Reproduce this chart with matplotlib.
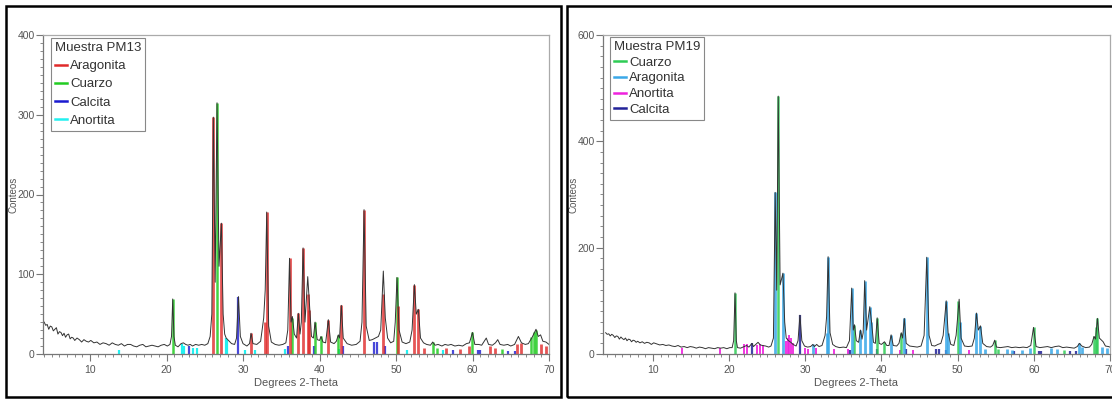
import matplotlib.pyplot as plt
import matplotlib.patches as pt
from matplotlib.lines import Line2D
from matplotlib.ticker import MultipleLocator

plt.rcParams["font.family"] = "Liberation Sans"

# ---- PM13 measured trace (2-theta, counts) ----
pm13_tt = [4.0, 4.2, 4.4, 4.6, 4.8, 5.0, 5.2, 5.4, 5.6, 5.8, 6.0, 6.2, 6.4, 6.6, 6.8, 7.0, 7.2, 7.4,
           7.6, 7.8, 8.0, 8.3, 8.6, 8.9, 9.2, 9.5, 9.8, 10.1, 10.5, 10.9, 11.3, 11.7, 12.1, 12.5,
           12.9, 13.3, 13.7, 14.1, 14.5, 14.9, 15.3, 15.7, 16.1, 16.5, 16.9, 17.3, 17.7, 18.1,
           18.5, 18.9, 19.3, 19.7, 20.1, 20.45, 20.65, 20.81, 20.97, 21.15, 21.5, 21.9, 22.2,
           22.5, 22.8, 23.1, 23.4, 23.8, 24.2, 24.6, 25.0, 25.4, 25.7, 25.92, 26.12, 26.36,
           26.6, 26.86, 27.17, 27.4, 27.6, 27.8, 28.1, 28.5, 28.9, 29.15, 29.4, 29.65, 30.0,
           30.5, 30.85, 31.05, 31.3, 31.8, 32.3, 32.7, 32.9, 33.1, 33.35, 33.7, 34.2, 34.7,
           35.2, 35.6, 35.85, 36.08, 36.28, 36.45, 36.7, 37.0, 37.23, 37.45, 37.62, 37.85,
           38.1, 38.46, 38.7, 38.95, 39.2, 39.42, 39.7, 40.0, 40.2, 40.45, 40.8, 41.15, 41.45,
           41.9, 42.2, 42.46, 42.62, 42.85, 43.1, 43.6, 44.2, 44.8, 45.3, 45.55, 45.82, 46.1,
           46.5, 46.9, 47.3, 47.7, 48.0, 48.34, 48.6, 48.9, 49.3, 49.7, 49.9, 50.13, 50.4,
           50.8, 51.3, 51.8, 52.1, 52.4, 52.65, 52.92, 53.2, 53.6, 54.0, 54.5, 54.8, 55.1,
           55.5, 56.0, 56.4, 56.8, 57.2, 57.7, 58.2, 58.7, 59.2, 59.6, 60.0, 60.3, 60.8, 61.2,
           61.8, 62.1, 62.6, 63.0, 63.3, 63.6, 64.1, 64.6, 65.0, 65.5, 66.0, 66.4, 66.9, 67.3,
           67.8, 68.0, 68.3, 68.6, 68.9, 69.2, 69.6, 70.0]
pm13_cts = [40, 36, 37, 31, 35, 34, 29, 31, 33, 25, 28, 27, 23, 26, 21, 24, 25, 19,
            21, 20, 17, 20, 18, 15, 18, 16, 15, 17, 14, 15, 12, 14, 13, 11,
            14, 12, 11, 13, 10, 12, 12, 10, 9, 11, 12, 9, 10, 11,
            10, 9, 11, 12, 10, 12, 22, 69, 22, 11, 9, 13, 14,
            12, 11, 12, 10, 12, 11, 12, 11, 13, 22, 50, 297, 90,
            315, 110, 164, 50, 25, 20, 17, 13, 12, 20, 72, 22, 13,
            10, 13, 26, 13, 12, 16, 45, 80, 178, 35, 15, 12, 11,
            12, 14, 30, 120, 40, 47, 25, 20, 51, 25, 40, 133,
            40, 97, 60, 22, 20, 40, 18, 17, 22, 15, 14, 43, 15,
            13, 16, 24, 20, 61, 20, 13, 11, 12, 16, 40, 181, 35,
            17, 18, 20, 22, 30, 104, 45, 20, 14, 16, 40, 96, 30,
            15, 13, 15, 30, 87, 50, 56, 20, 14, 12, 11, 15, 11,
            12, 10, 12, 11, 12, 10, 11, 10, 13, 14, 27, 12, 12, 11,
            20, 12, 11, 14, 18, 12, 11, 12, 10, 12, 22, 14, 12, 13,
            21, 25, 31, 22, 24, 16, 15, 12]

# ---- PM13 reference sticks (position, height) ----
pm13_arag_pos = [26.12, 27.17, 31.05, 32.9, 33.1, 36.08, 37.23, 37.85, 38.46, 38.65, 41.15, 42.85,
                 45.82, 48.34, 50.2, 52.4, 52.92, 53.6, 56.5, 58.4, 59.5, 62.3, 63.0, 65.8, 66.3,
                 68.9, 69.6]
pm13_arag_h = [297, 164, 26, 40, 178, 120, 51, 133, 75, 55, 43, 61,
               181, 75, 60, 87, 56, 8, 8, 6, 10, 10, 8, 12, 14,
               12, 10]
pm13_cuar_pos = [20.81, 26.6, 36.45, 39.42, 40.2, 42.46, 50.1, 54.8, 55.3, 59.95, 63.9, 67.7,
                 68.1, 68.3]
pm13_cuar_h = [69, 315, 45, 40, 22, 24, 96, 15, 8, 27, 6, 21, 28, 30]
pm13_calc_pos = [23.0, 29.4, 35.9, 39.3, 43.1, 47.1, 47.5, 48.5, 57.4, 60.7, 61.0, 64.7, 65.6]
pm13_calc_h = [10, 72, 10, 10, 10, 15, 15, 10, 5, 5, 5, 4, 4]
pm13_anor_pos = [13.8, 22.0, 22.3, 23.5, 24.0, 27.75, 27.95, 30.2, 31.5, 35.5, 42.6, 51.5, 56.2]
pm13_anor_h = [5, 12, 10, 8, 8, 20, 18, 5, 5, 6, 6, 5, 5]

# ---- PM19 measured trace (2-theta, counts) ----
pm19_tt = [3.8, 4.0, 4.2, 4.4, 4.6, 4.8, 5.0, 5.2, 5.4, 5.6, 5.8, 6.0, 6.2, 6.4, 6.6, 6.8, 7.0,
           7.2, 7.4, 7.6, 7.8, 8.0, 8.3, 8.6, 8.9, 9.2, 9.5, 9.8, 10.1, 10.5, 10.9, 11.3, 11.7,
           12.1, 12.5, 12.9, 13.3, 13.7, 14.1, 14.5, 14.9, 15.3, 15.7, 16.1, 16.5, 16.9, 17.3,
           17.7, 18.1, 18.5, 18.9, 19.3, 19.7, 20.1, 20.4, 20.6, 20.78, 20.95, 21.1, 21.5,
           22.0, 22.3, 22.6, 23.0, 23.2, 23.5, 23.8, 24.1, 24.4, 24.8, 25.2, 25.5, 25.82,
           26.05, 26.25, 26.45, 26.7, 27.07, 27.3, 27.5, 27.8, 28.1, 28.4, 28.8, 29.05, 29.3,
           29.55, 29.9, 30.3, 30.7, 31.0, 31.2, 31.5, 31.8, 32.2, 32.6, 32.8, 33.0, 33.25,
           33.6, 34.0, 34.5, 35.0, 35.4, 35.8, 36.1, 36.3, 36.46, 36.7, 37.0, 37.25, 37.45,
           37.6, 37.8, 38.05, 38.47, 38.7, 38.95, 39.2, 39.44, 39.7, 40.0, 40.4, 40.7, 41.0,
           41.27, 41.55, 42.0, 42.3, 42.6, 42.78, 43.0, 43.25, 43.7, 44.2, 44.7, 45.2, 45.6,
           45.95, 46.25, 46.6, 47.0, 47.4, 47.8, 48.1, 48.5, 48.75, 49.1, 49.5, 49.8, 50.2,
           50.45, 50.9, 51.4, 51.9, 52.2, 52.47, 52.72, 53.0, 53.3, 53.8, 54.3, 54.6, 54.87,
           55.1, 55.6, 56.1, 56.6, 57.1, 57.6, 58.1, 58.6, 59.1, 59.6, 59.96, 60.3, 60.8,
           61.3, 61.8, 62.3, 62.8, 63.3, 63.8, 64.3, 64.8, 65.3, 65.7, 65.99, 66.3, 66.8,
           67.3, 67.6, 67.9, 68.1, 68.35, 68.6, 69.1, 69.4, 69.8, 70.0]
pm19_cts = [40, 37, 38, 34, 37, 35, 31, 34, 33, 28, 32, 29, 27, 30, 25, 28, 27,
            23, 26, 25, 22, 24, 21, 23, 20, 22, 21, 18, 21, 19, 17, 18, 16,
            17, 15, 14, 16, 13, 14, 12, 14, 13, 11, 13, 12, 10, 12,
            11, 10, 12, 11, 12, 10, 12, 12, 25, 115, 25, 12, 11,
            14, 16, 13, 20, 14, 18, 22, 17, 16, 15, 13, 15, 30,
            304, 120, 485, 130, 152, 60, 30, 25, 22, 18, 15, 25, 73,
            25, 15, 13, 14, 18, 14, 18, 14, 16, 35, 70, 183, 40,
            18, 14, 12, 13, 12, 25, 124, 45, 55, 25, 22, 45, 28,
            40, 138, 45, 89, 60, 22, 20, 68, 20, 18, 23, 16, 16,
            36, 16, 15, 20, 40, 30, 67, 20, 15, 14, 13, 15, 35,
            182, 35, 16, 15, 18, 20, 35, 100, 40, 18, 16, 35, 103,
            30, 15, 14, 15, 30, 77, 45, 53, 20, 14, 13, 16, 26,
            13, 12, 13, 14, 12, 13, 12, 13, 12, 16, 50, 14, 12,
            13, 14, 12, 14, 15, 12, 13, 12, 11, 14, 20, 15, 12,
            13, 18, 33, 28, 67, 30, 23, 15, 14, 13]

# ---- PM19 reference sticks (position, height) ----
pm19_cuar_pos = [20.78, 26.45, 36.46, 39.44, 40.4, 42.6, 50.1, 54.87, 55.3, 59.96, 63.9, 67.9,
                 68.1, 68.35]
pm19_cuar_h = [115, 485, 55, 68, 23, 40, 100, 26, 10, 50, 8, 33, 50, 67]
pm19_arag_pos = [26.05, 27.07, 31.0, 32.8, 33.0, 36.1, 37.25, 37.8, 38.47, 38.65, 41.27, 43.0,
                 45.95, 48.5, 48.7, 50.25, 52.47, 53.0, 53.6, 56.5, 57.2, 58.4, 59.5, 62.3,
                 63.0, 65.99, 66.3, 68.9, 69.6]
pm19_arag_h = [304, 152, 18, 40, 183, 124, 45, 138, 89, 60, 36, 67,
               182, 100, 40, 60, 77, 53, 10, 10, 8, 8, 12, 12,
               10, 20, 14, 14, 12]
pm19_anor_pos = [13.8, 18.8, 22.0, 22.3, 23.6, 24.0, 24.5, 27.5, 27.7, 27.9, 28.1, 28.4,
                 29.9, 30.3, 31.4, 33.8, 35.6, 42.5, 44.2, 51.5]
pm19_anor_h = [12, 12, 18, 18, 16, 18, 16, 25, 30, 35, 30, 20,
               12, 10, 12, 10, 10, 8, 8, 8]
pm19_calc_pos = [23.0, 29.3, 35.9, 39.4, 43.2, 47.1, 47.5, 48.5, 57.4, 60.7, 61.0, 64.7, 65.6]
pm19_calc_h = [20, 73, 8, 10, 10, 10, 10, 8, 6, 6, 6, 5, 5]

# colours
RED = '#e02a2a'
GREEN13 = '#22cc22'
BLUE13 = '#1a1ad0'
CYAN13 = '#22f0f0'
GREEN19 = '#2ecc55'
SKY19 = '#3aa8e8'
MAG19 = '#ee22dd'
NAVY19 = '#222299'

fig = plt.figure(figsize=(11.12, 3.99), dpi=100)

# black outer frames around each panel
W, H = 1112.0, 399.0
fig.patches.append(pt.Rectangle((6 / W, 2 / H), 555 / W, 391 / H, transform=fig.transFigure,
                                fill=False, edgecolor='black', linewidth=1.8))
fig.patches.append(pt.Rectangle((567 / W, 2 / H), 560 / W, 391 / H, transform=fig.transFigure,
                                fill=False, edgecolor='black', linewidth=1.8))

ax1 = fig.add_axes([43 / W, 45 / H, 506 / W, 319 / H])
ax2 = fig.add_axes([603 / W, 45 / H, 507 / W, 319 / H])


def style(ax, ymax, ymajor, yminor, xmin, title, labels, colors, lspace, anchor):
    ax.set_xlim(xmin, 70)
    ax.set_ylim(0, ymax)
    ax.xaxis.set_major_locator(MultipleLocator(10))
    ax.xaxis.set_minor_locator(MultipleLocator(1))
    ax.yaxis.set_major_locator(MultipleLocator(ymajor))
    ax.yaxis.set_minor_locator(MultipleLocator(yminor))
    ax.tick_params(which='major', direction='out', length=5, width=0.8, color='#777777',
                   labelsize=7.5, labelcolor='#555555', pad=1)
    ax.tick_params(which='minor', direction='out', length=2.5, width=0.6, color='#777777')
    ax.tick_params(axis='x', which='major', pad=3)
    for s in ['top', 'right']:
        ax.spines[s].set_color('#aaaaaa')
    for s in ['left', 'bottom']:
        ax.spines[s].set_color('#777777')
    for s in ax.spines.values():
        s.set_linewidth(0.9)
    ax.set_ylabel('Conteos', fontsize=7, color='#555555', va='center')
    ax.yaxis.set_label_coords(-0.058, 0.5)
    ax.set_xlabel('Degrees 2-Theta', fontsize=8, color='#555555')
    ax.xaxis.set_label_coords(0.5, -0.075)
    handles = [Line2D([], [], color=c, lw=1.8) for c in colors]
    leg = ax.legend(handles, labels, title=title, loc='upper left', bbox_to_anchor=anchor,
                    borderaxespad=0, fontsize=9.5, title_fontsize=9.5, frameon=True,
                    fancybox=False, edgecolor='#888888', framealpha=1, handlelength=0.9,
                    handletextpad=0.25, labelspacing=lspace, borderpad=0.3,
                    alignment='left')
    leg.get_frame().set_linewidth(0.8)
    leg.get_title().set_color('#333333')
    for t in leg.get_texts():
        t.set_color('#333333')


# PM13
ax1.vlines(pm13_anor_pos, 0, pm13_anor_h, color=CYAN13, lw=1.6)
ax1.vlines(pm13_calc_pos, 0, pm13_calc_h, color=BLUE13, lw=1.6, alpha=0.8)
ax1.vlines(pm13_cuar_pos, 0, pm13_cuar_h, color=GREEN13, lw=1.8, alpha=0.85)
ax1.vlines(pm13_arag_pos, 0, pm13_arag_h, color=RED, lw=2.0, alpha=0.8)
ax1.plot(pm13_tt, pm13_cts, color='#333333', lw=0.7)
style(ax1, 400, 100, 10, 3.85, 'Muestra PM13', ['Aragonita', 'Cuarzo', 'Calcita', 'Anortita'],
      [RED, GREEN13, BLUE13, CYAN13], 0.45, (0.016, 0.99))

# PM19
ax2.vlines(pm19_anor_pos, 0, pm19_anor_h, color=MAG19, lw=1.4, alpha=0.9)
ax2.vlines(pm19_calc_pos, 0, pm19_calc_h, color=NAVY19, lw=1.6, alpha=0.85)
ax2.vlines(pm19_cuar_pos, 0, pm19_cuar_h, color=GREEN19, lw=1.8, alpha=0.85)
ax2.vlines(pm19_arag_pos, 0, pm19_arag_h, color=SKY19, lw=2.0, alpha=0.85)
ax2.plot(pm19_tt, pm19_cts, color='#333333', lw=0.7)
style(ax2, 600, 200, 20, 3.45, 'Muestra PM19', ['Cuarzo', 'Aragonita', 'Anortita', 'Calcita'],
      [GREEN19, SKY19, MAG19, NAVY19], 0.27, (0.014, 0.994))

fig.savefig('out.png', dpi=100)
